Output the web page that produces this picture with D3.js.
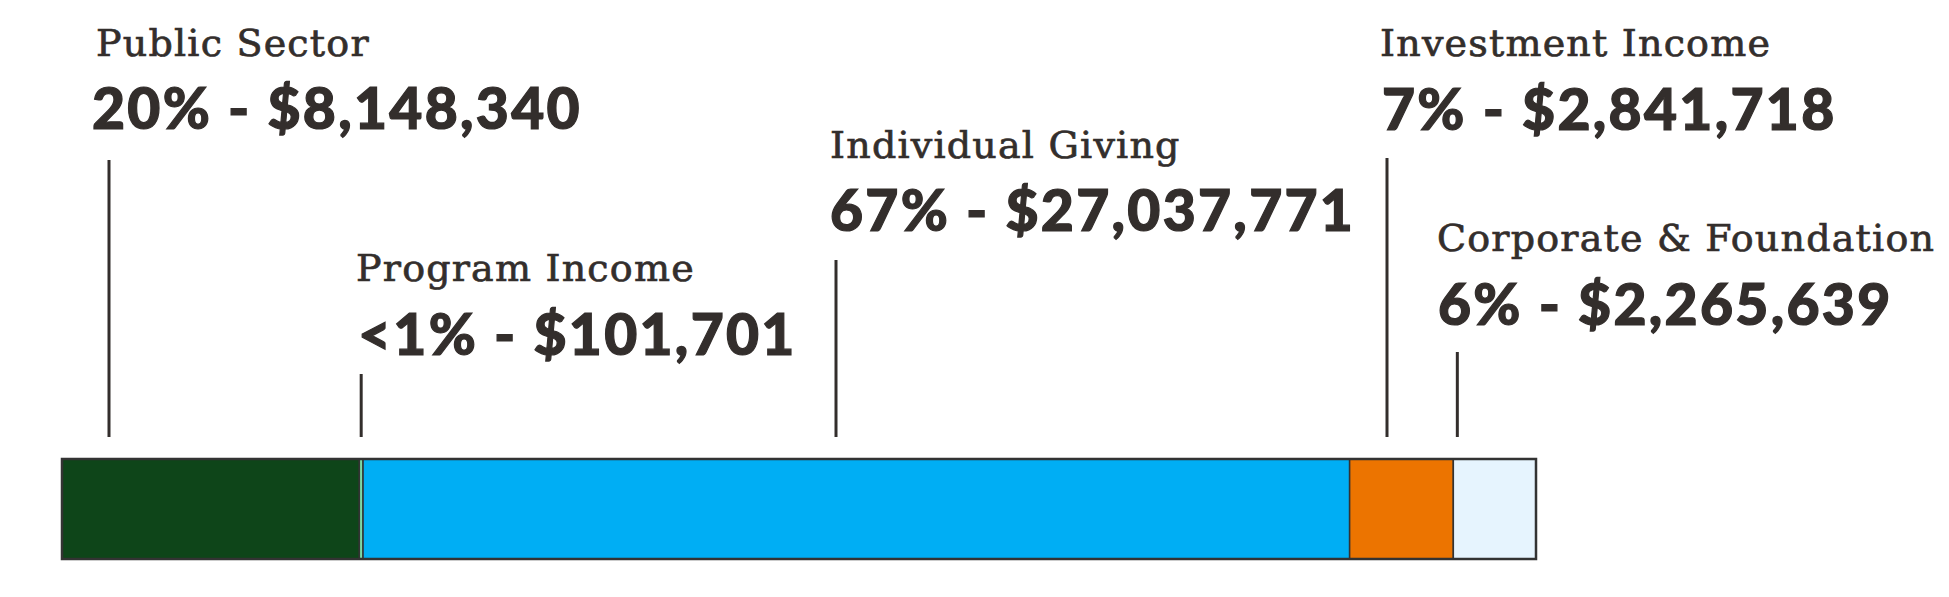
<!DOCTYPE html>
<html>
<head>
<meta charset="utf-8">
<script src="https://cdn.jsdelivr.net/npm/d3@7"></script>
<style>
  html, body { margin: 0; padding: 0; background: #ffffff; }
  svg { display: block; }
</style>
</head>
<body>
<svg id="chart" width="1949" height="597"></svg>
<script>
// ---- data ----
const categories = ["Public Sector", "Program Income", "Individual Giving", "Investment Income", "Corporate & Foundation"];
const amounts = [8148340, 101701, 27037771, 2841718, 2265639];
const colors = ["#0e4519", "#7dd8a5", "#00aef4", "#ec7400", "#e6f4fe"];

// ---- layout (annotation placement) ----
const titleX  = [96, 356, 830, 1380, 1437];
const titleY  = [56, 281, 158, 56, 251];
const numX    = [92, 358, 830, 1382, 1438];
const numY    = [129, 355, 231, 130, 325];
const leaderX = [109, 369, 836, 1387, 1449];
const leaderTop = [160, 374, 260, 158, 352];

const W = 1949, H = 597;
const bar = { x0: 62, x1: 1536, y: 459, h: 100 };
const leaderBottom = 437;
const ink = "#332e2c";

const svg = d3.select("#chart");
const total = d3.sum(amounts);
const cum = d3.cumsum(amounts);
const starts = amounts.map((v, i) => cum[i] - v);

const x = d3.scaleLinear().domain([0, total]).range([bar.x0, bar.x1]);
const fmtMoney = d3.format("$,");
const pctLabel = v => {
  const p = v / total * 100;
  return p < 1 ? "<1%" : Math.round(p) + "%";
};

const segs = categories.map((c, i) => ({
  name: c, value: amounts[i], start: starts[i], color: colors[i], i
}));

// bar segments
svg.append("g").selectAll("rect").data(segs).join("rect")
  .attr("x", d => x(d.start))
  .attr("y", bar.y)
  .attr("width", d => x(d.start + d.value) - x(d.start))
  .attr("height", bar.h)
  .attr("fill", d => d.color)
  .attr("stroke", "#333333")
  .attr("stroke-width", 1.5);

// outer border
svg.append("rect")
  .attr("x", x(0))
  .attr("y", bar.y)
  .attr("width", x(total) - x(0))
  .attr("height", bar.h)
  .attr("fill", "none")
  .attr("stroke", "#333333")
  .attr("stroke-width", 2.5);

// leaders
svg.append("g").selectAll("line").data(segs).join("line")
  .attr("x1", d => {
    const a = x(d.start), b = x(d.start + d.value);
    const pad = Math.min(4, (b - a) / 2);
    return Math.max(a + pad, Math.min(b - pad, leaderX[d.i]));
  })
  .attr("x2", function() { return d3.select(this).attr("x1"); })
  .attr("y1", d => leaderTop[d.i])
  .attr("y2", leaderBottom)
  .attr("stroke", ink)
  .attr("stroke-width", 3);

// titles
svg.append("g").selectAll("text").data(segs).join("text")
  .attr("x", d => titleX[d.i])
  .attr("y", d => titleY[d.i])
  .attr("fill", ink)
  .attr("stroke", ink)
  .attr("stroke-width", 0.7)
  .style("font-family", "'DejaVu Serif', serif")
  .style("font-size", "38px")
  .style("letter-spacing", "1.2px")
  .text(d => d.name);

// numbers
svg.append("g").selectAll("text").data(segs).join("text")
  .attr("x", d => numX[d.i])
  .attr("y", d => numY[d.i])
  .attr("fill", ink)
  .attr("stroke", ink)
  .attr("stroke-width", 1.2)
  .style("font-family", "Lato, sans-serif")
  .style("font-weight", "900")
  .style("font-size", "57px")
  .style("letter-spacing", "2.3px")
  .text(d => pctLabel(d.value) + " - " + fmtMoney(d.value));
</script>
</body>
</html>
